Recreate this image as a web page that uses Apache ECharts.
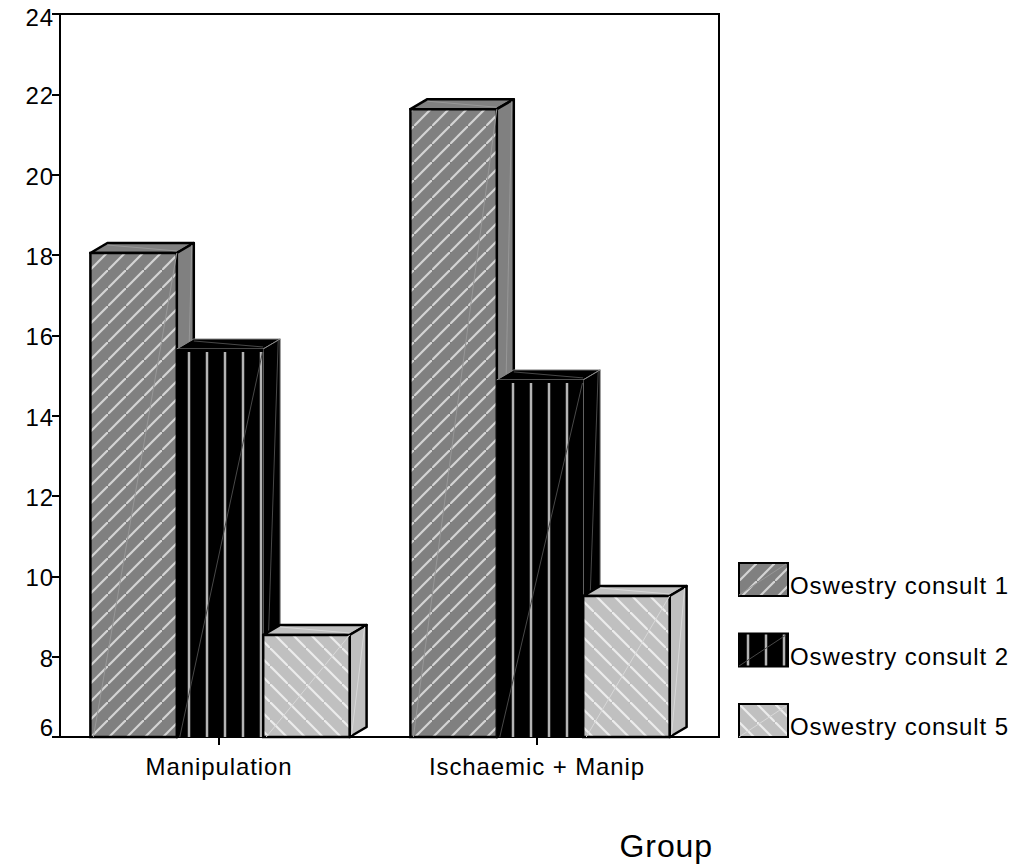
<!DOCTYPE html>
<html>
<head>
<meta charset="utf-8">
<style>
html,body{margin:0;padding:0;background:#fff}
/* reference text is tracked out a little */
#main text{letter-spacing:0.9px}
</style>
<script src="https://cdn.jsdelivr.net/npm/echarts@6/dist/echarts.min.js"></script>
</head>
<body>
<div id="main" style="width:1019px;height:866px"></div>
<script>
var categories = ["Manipulation", "Ischaemic + Manip"];
var seriesNames = ["Oswestry consult 1", "Oswestry consult 2", "Oswestry consult 5"];
var consult1 = [18.05, 21.63];
var consult2 = [15.66, 14.89];
var consult5 = [8.54, 9.51];
var seriesValues = [consult1, consult2, consult5];

var font = "Liberation Sans";
var depthX = 17, depthY = 10;
var barRatio = 0.2717;
var groupShift = [1, 3];

// hatch tiles
function makeTile(bg, line, kind) {
  var c = document.createElement("canvas");
  c.width = 18; c.height = 18;
  var g = c.getContext("2d");
  g.fillStyle = bg;
  g.fillRect(0, 0, 18, 18);
  g.strokeStyle = line;
  g.lineWidth = kind === "vert" ? 2.5 : 2.2;
  g.beginPath();
  if (kind === "up") {
    g.moveTo(-2, 20); g.lineTo(20, -2);
  } else if (kind === "down") {
    g.moveTo(-2, -2); g.lineTo(20, 20);
  } else {
    g.moveTo(9, 0); g.lineTo(9, 18);
  }
  g.stroke();
  return { image: c, repeat: "repeat" };
}
var fills = [
  makeTile("#808080", "#d4d4d4", "up"),
  makeTile("#000000", "#b4b4b4", "vert"),
  makeTile("#c0c0c0", "#ececec", "down")
];
var flats = ["#808080", "#000000", "#c0c0c0"];
var seams = ["#979797", "#484848", "#d8d8d8"];

function bar3d(idx) {
  return function (params, api) {
    var band = api.size([1, 0])[0];
    var w = band * barRatio;
    var top = api.coord([api.value(0), api.value(1)]);
    var base = api.coord([api.value(0), 6]);
    var x0 = top[0] + groupShift[params.dataIndex] + (idx - 1.5) * w;
    var x1 = x0 + w;
    var edge = idx === 1 ? "#8a8a8a" : "#000";
    var edgeW = idx === 1 ? 1 : 2.5;
    var seam = { stroke: seams[idx], lineWidth: 1 };
    var parts = [
      { type: "polygon", shape: { points: [[x0, top[1]], [x0 + depthX, top[1] - depthY], [x1 + depthX, top[1] - depthY], [x1, top[1]]] },
        style: { fill: flats[idx], stroke: edge, lineWidth: edgeW, lineJoin: "round" } },
      { type: "polygon", shape: { points: [[x1, top[1]], [x1 + depthX, top[1] - depthY], [x1 + depthX, base[1] - depthY], [x1, base[1]]] },
        style: { fill: flats[idx], stroke: edge, lineWidth: edgeW, lineJoin: "round" } },
      { type: "rect", shape: { x: x0, y: top[1], width: w, height: base[1] - top[1] },
        style: { fill: fills[idx], stroke: "#000", lineWidth: idx === 1 ? 0 : 2.5 } },
      // faint seams where the 3d faces were split
      { type: "line", shape: { x1: x0 + 3, y1: base[1], x2: x1, y2: top[1] }, style: seam },
      { type: "line", shape: { x1: x1 + 2, y1: base[1] - 2, x2: x1 + depthX - 2, y2: top[1] - depthY + 2 }, style: seam },
      { type: "line", shape: { x1: x0 + depthX, y1: top[1] - depthY + 2, x2: x1, y2: top[1] - 2 }, style: seam }
    ];
    if (idx === 1) {
      // stripes stop just under the top edge
      parts.push({ type: "line", shape: { x1: x0, y1: top[1] + 1.5, x2: x1, y2: top[1] + 1.5 }, style: { stroke: "#000", lineWidth: 3 } });
    }
    return { type: "group", children: parts };
  };
}

var series = seriesNames.map(function (name, i) {
  return {
    name: name,
    type: "custom",
    clip: false,
    renderItem: bar3d(i),
    itemStyle: { color: fills[i], borderColor: "#000", borderWidth: 2.5 },
    encode: { x: 0, y: 1 },
    data: seriesValues[i].map(function (v, k) { return [k, v]; })
  };
});

var yLabel = { fontFamily: font, fontSize: 24, color: "#000" };

var chart = echarts.init(document.getElementById("main"), null, { renderer: "svg" });
chart.setOption({
  animation: false,
  backgroundColor: "#fff",
  grid: { left: 60, top: 14, width: 636, height: 723 },
  legend: {
    orient: "vertical",
    left: 738,
    top: 562,
    padding: 0,
    itemWidth: 49,
    itemHeight: 33,
    itemGap: 35,
    data: seriesNames,
    icon: "rect",
    formatter: function (n) { return "{t|" + n + "}"; },
    textStyle: {
      fontFamily: font, fontSize: 24, color: "#000", padding: [0, 0, 0, -3],
      rich: { t: { fontFamily: font, fontSize: 24, color: "#000", padding: [12, 0, 0, 0] } }
    }
  },
  xAxis: {
    type: "category",
    data: categories,
    axisLine: { lineStyle: { color: "#000", width: 2 } },
    axisTick: { show: true, alignWithLabel: true, length: 8, lineStyle: { color: "#000", width: 2 }, interval: 0 },
    axisLabel: { fontFamily: font, fontSize: 24, color: "#000", margin: 17, interval: 0 },
    name: "Group",
    nameLocation: "end",
    nameGap: 17,
    nameTextStyle: { fontFamily: font, fontSize: 32, color: "#000", align: "right", verticalAlign: "top", padding: [93, 0, 0, 0] }
  },
  yAxis: {
    type: "value",
    min: 6,
    max: 24,
    interval: 2,
    splitLine: { show: false },
    axisLine: { show: true, lineStyle: { color: "#000", width: 2 } },
    axisTick: { show: true, length: 8, lineStyle: { color: "#000", width: 2 } },
    axisLabel: {
      margin: 6,
      formatter: function (v) {
        if (v === 24) return "{hi|" + v + "}";
        if (v === 6) return "{lo|" + v + "}";
        return "{mid|" + v + "}";
      },
      rich: {
        hi: Object.assign({ padding: [7, 0, 0, 0] }, yLabel),
        mid: Object.assign({ padding: [3, 0, 0, 0] }, yLabel),
        lo: Object.assign({ padding: [0, 0, 20, 0] }, yLabel)
      }
    }
  },
  // back frame runs past the axis by the bar depth, legend swatches keep their seam
  graphic: [
    { type: "polyline", z: -1, shape: { points: [[60, 14], [719, 14], [719, 737], [696, 737]] },
      style: { fill: null, stroke: "#000", lineWidth: 2 } },
    { type: "line", z: 10, shape: { x1: 739, y1: 595, x2: 786, y2: 564 }, style: { stroke: seams[0], lineWidth: 1 } },
    { type: "line", z: 10, shape: { x1: 739, y1: 666, x2: 786, y2: 635 }, style: { stroke: seams[1], lineWidth: 1 } },
    { type: "line", z: 10, shape: { x1: 739, y1: 737, x2: 786, y2: 706 }, style: { stroke: seams[2], lineWidth: 1 } }
  ],
  series: series
});
</script>
</body>
</html>
